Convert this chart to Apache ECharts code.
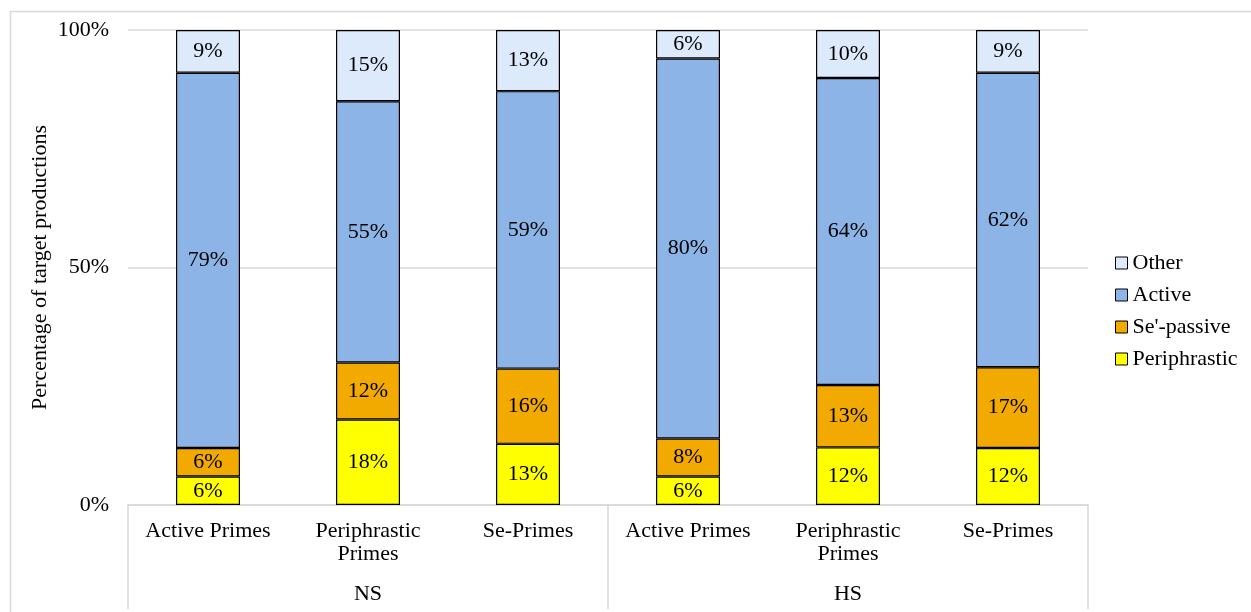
<!DOCTYPE html>
<html>
<head>
<meta charset="utf-8">
<title>Target productions by prime type</title>
<script src="https://cdn.jsdelivr.net/npm/echarts@6/dist/echarts.min.js"></script>
<style>
  html, body { margin: 0; padding: 0; background: #ffffff; }
  #chart { width: 1251px; height: 612px; }
</style>
</head>
<body>
<div id="chart"></div>
<script>
// Prime conditions, grouped by speaker group
const categories = ['Active Primes', 'Periphrastic\nPrimes', 'Se-Primes', 'Active Primes', 'Periphrastic\nPrimes', 'Se-Primes'];
const groups = ['NS', 'HS'];

// Percentages of target productions per response type
const periphrastic = [6, 18, 13, 6, 12, 12];
const sePassive = [6, 12, 16, 8, 13, 17];
const active = [79, 55, 59, 80, 64, 62];
const other = [9, 15, 13, 6, 10, 9];

const yTicks = [0, 50, 100];

const FONT = '"Liberation Serif", "Times New Roman", serif';
const GRID_GRAY = '#D9D9D9';

// 100% stacking: each column is scaled by its own total
const totals = categories.map((_, i) => periphrastic[i] + sePassive[i] + active[i] + other[i]);
const share = arr => arr.map((v, i) => v / totals[i] * 100);

function makeSeries(name, values, color) {
  return {
    name: name,
    type: 'bar',
    stack: 'all',
    xAxisIndex: 0,
    barWidth: '40%',
    data: share(values),
    itemStyle: { color: color, borderColor: '#000', borderWidth: 1.2 },
    label: {
      show: true,
      position: 'inside',
      color: '#000',
      fontFamily: FONT,
      fontSize: 22,
      formatter: p => values[p.dataIndex] + '%'
    },
    emphasis: { disabled: true }
  };
}

const chart = echarts.init(document.getElementById('chart'), null, { renderer: 'canvas' });

chart.setOption({
  animation: false,
  backgroundColor: '#ffffff',
  textStyle: { fontFamily: FONT, color: '#000' },
  graphic: [{
    type: 'rect',
    left: 8,
    top: 9,
    z: -10,
    shape: { width: 1400, height: 800 },
    style: { fill: 'none', stroke: GRID_GRAY, lineWidth: 1.5 }
  }],
  grid: { left: 128, right: 163, top: 30, bottom: 107, containLabel: false },
  legend: {
    orient: 'vertical',
    left: 1115,
    top: 252,
    padding: 0,
    itemWidth: 12,
    itemHeight: 12,
    itemGap: 10,
    icon: 'rect',
    data: ['Other', 'Active', "Se'-passive", 'Periphrastic'],
    itemStyle: { borderColor: '#000', borderWidth: 1 },
    textStyle: { fontFamily: FONT, fontSize: 22, color: '#000' }
  },
  xAxis: [{
    type: 'category',
    data: categories,
    position: 'bottom',
    axisLine: { show: true, lineStyle: { color: GRID_GRAY, width: 1.5 } },
    axisTick: { show: false },
    axisLabel: {
      interval: 0,
      margin: 15,
      color: '#000',
      fontFamily: FONT,
      fontSize: 22,
      lineHeight: 23
    }
  }, {
    type: 'category',
    data: groups,
    position: 'bottom',
    axisLine: { show: false },
    axisTick: { show: true, length: 104, lineStyle: { color: GRID_GRAY, width: 1.5 } },
    axisLabel: {
      margin: 78,
      color: '#000',
      fontFamily: FONT,
      fontSize: 22
    },
    splitLine: { show: false }
  }],
  yAxis: {
    type: 'value',
    min: yTicks[0],
    max: yTicks[yTicks.length - 1],
    interval: yTicks[1] - yTicks[0],
    name: 'Percentage of target productions',
    nameLocation: 'middle',
    nameGap: 88,
    nameRotate: 90,
    nameMoveOverlap: false,
    nameTextStyle: { fontFamily: FONT, fontSize: 22, color: '#000', verticalAlign: 'middle' },
    axisLine: { show: false },
    axisTick: { show: false },
    axisLabel: {
      margin: 19,
      color: '#000',
      fontFamily: FONT,
      fontSize: 22,
      formatter: '{value}%'
    },
    splitLine: { show: true, lineStyle: { color: GRID_GRAY, width: 1.5 } }
  },
  series: [
    makeSeries('Periphrastic', periphrastic, '#FFFF00'),
    makeSeries("Se'-passive", sePassive, '#F2A900'),
    makeSeries('Active', active, '#8DB4E6'),
    makeSeries('Other', other, '#DCEAFB')
  ]
});
</script>
</body>
</html>
